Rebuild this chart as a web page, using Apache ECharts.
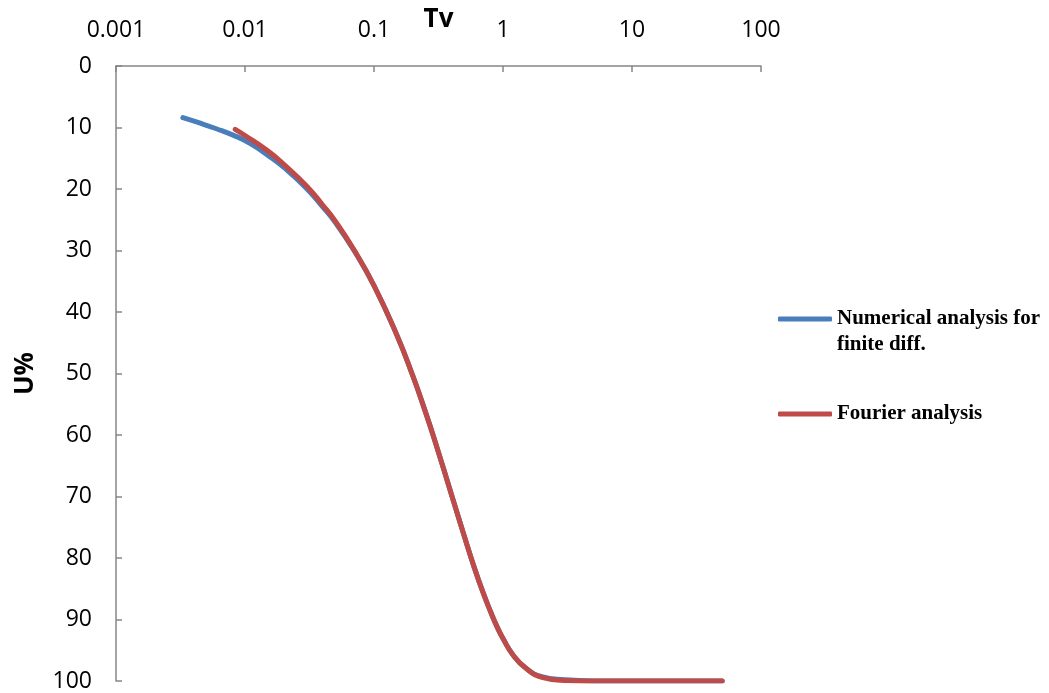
<!DOCTYPE html>
<html>
<head>
<meta charset="utf-8">
<script src="https://cdn.jsdelivr.net/npm/echarts@6/dist/echarts.min.js"></script>
<style>html,body{margin:0;padding:0;background:#fff;}#c{width:1049px;height:693px;}</style>
</head>
<body>
<div id="c"></div>
<script>
var seriesNames = ['Numerical analysis for finite diff.', 'Fourier analysis'];
var xTicks = [0.001, 0.01, 0.1, 1, 10, 100];
var numTv = [0.0033, 0.0045, 0.006, 0.008, 0.011, 0.015, 0.02, 0.03, 0.04, 0.05, 0.07, 0.1, 0.15, 0.2, 0.25, 0.3, 0.4, 0.5, 0.6, 0.7, 0.8, 0.9, 1.0, 1.2, 1.5, 2, 3, 5, 10, 20, 50];
var numU  = [8.4, 9.3, 10.2, 11.2, 12.6, 14.5, 16.5, 19.9, 22.9, 25.4, 30.0, 35.7, 43.7, 50.4, 56.2, 61.3, 69.8, 76.4, 81.6, 85.6, 88.7, 91.2, 93.1, 95.8, 97.9, 99.3, 99.8, 100, 100, 100, 100];
var fouTv = [0.0084, 0.01, 0.015, 0.02, 0.03, 0.04, 0.05, 0.07, 0.1, 0.15, 0.2, 0.25, 0.3, 0.4, 0.5, 0.6, 0.7, 0.8, 0.9, 1.0, 1.2, 1.5, 2, 3, 5, 10, 20, 50];
var fouU  = [10.3, 11.3, 13.8, 16.0, 19.5, 22.6, 25.2, 29.9, 35.7, 43.7, 50.4, 56.2, 61.3, 69.8, 76.4, 81.6, 85.6, 88.7, 91.2, 93.1, 95.8, 97.9, 99.4, 99.9, 100, 100, 100, 100];

function zip(a, b) { return a.map(function (v, i) { return [v, b[i]]; }); }

var axisColor = '#868686';
var labelFont = { color: '#000', fontFamily: 'Open Sans', fontSize: 23 };
var chart = echarts.init(document.getElementById('c'), null, { renderer: 'canvas' });
chart.setOption({
  animation: false,
  backgroundColor: '#fff',
  grid: { left: 116, top: 66, right: 288, bottom: 12, containLabel: false, outerBoundsMode: 'none' },
  xAxis: {
    type: 'log', logBase: 10, min: 0.001, max: 100, position: 'top',
    name: 'Tv', nameLocation: 'middle', nameGap: 33, nameMoveOverlap: false,
    nameTextStyle: { color: '#000', fontFamily: 'Open Sans', fontWeight: 'bold', fontSize: 26 },
    axisLine: { show: true, lineStyle: { color: axisColor, width: 1.5 } },
    axisTick: { show: true, inside: true, length: 6, lineStyle: { color: axisColor, width: 1.5 } },
    minorTick: { show: false },
    splitLine: { show: false },
    axisLabel: Object.assign({ margin: 24, formatter: function (v) {
      for (var i = 0; i < xTicks.length; i++) { if (Math.abs(v / xTicks[i] - 1) < 1e-6) return String(xTicks[i]); }
      return '';
    } }, labelFont)
  },
  yAxis: {
    type: 'value', inverse: true, min: 0, max: 100, interval: 10,
    name: 'U%', nameLocation: 'middle', nameGap: 77, nameRotate: 90, nameMoveOverlap: false,
    nameTextStyle: { color: '#000', fontFamily: 'Open Sans', fontWeight: 'bold', fontSize: 26 },
    axisLine: { show: true, lineStyle: { color: axisColor, width: 1.5 } },
    axisTick: { show: true, inside: true, length: 6, lineStyle: { color: axisColor, width: 1.5 } },
    splitLine: { show: false },
    axisLabel: Object.assign({ margin: 24 }, labelFont)
  },
  legend: [
    {
      data: [{ name: seriesNames[0], icon: 'roundRect' }],
      left: 778, top: 280, padding: 0,
      itemWidth: 54, itemHeight: 5,
      formatter: function () { return '\nNumerical analysis for\nfinite diff.'; },
      textStyle: { color: '#000', fontFamily: 'Liberation Serif', fontWeight: 'bold', fontSize: 21, lineHeight: 26 }
    },
    {
      data: [{ name: seriesNames[1], icon: 'roundRect' }],
      left: 778, top: 402, padding: 0,
      itemWidth: 54, itemHeight: 5,
      textStyle: { color: '#000', fontFamily: 'Liberation Serif', fontWeight: 'bold', fontSize: 21, lineHeight: 24 }
    }
  ],
  series: [
    {
      name: seriesNames[0], type: 'line', data: zip(numTv, numU), smooth: 0.5,
      symbol: 'none', color: '#4A7EBB',
      lineStyle: { color: '#4A7EBB', width: 5, cap: 'round', join: 'round' }
    },
    {
      name: seriesNames[1], type: 'line', data: zip(fouTv, fouU), smooth: 0.5,
      symbol: 'none', color: '#BE4B48',
      lineStyle: { color: '#BE4B48', width: 5, cap: 'round', join: 'round' }
    }
  ]
});
</script>
</body>
</html>
